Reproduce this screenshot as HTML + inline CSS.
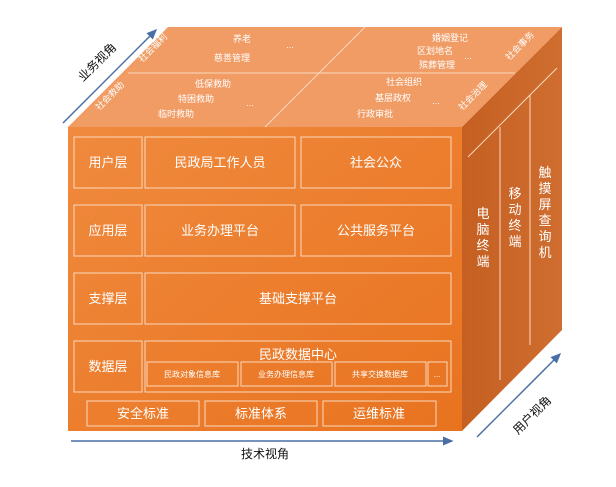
<!DOCTYPE html>
<html><head><meta charset="utf-8"><style>
body{margin:0;background:#fff;}
svg text{font-family:"Liberation Sans","Noto Sans CJK SC",sans-serif;fill:#fff;}
</style></head><body>
<svg width="616" height="482" viewBox="0 0 616 482" xmlns="http://www.w3.org/2000/svg">
<defs>
<linearGradient id="fg" x1="0" y1="0" x2="1" y2="1"><stop offset="0" stop-color="#f08a3e"/><stop offset="1" stop-color="#e8731f"/></linearGradient>
<linearGradient id="rg" x1="0" y1="0" x2="1" y2="0"><stop offset="0" stop-color="#c55f22"/><stop offset="1" stop-color="#cf6e30"/></linearGradient>
<marker id="ah" markerWidth="8" markerHeight="8" refX="6" refY="3" orient="auto"><path d="M0,0 L7,3 L0,6 Z" fill="#4a6fa5"/></marker>
</defs>
<!-- top face -->
<polygon points="68,127 168,27 562,27 462,127" fill="#f19c65"/>
<!-- right face -->
<polygon points="462,127 562,27 562,330 462,431" fill="url(#rg)"/>
<!-- front -->
<rect x="68" y="127" width="394" height="304" fill="url(#fg)"/>
<g stroke="#fbd8bd" stroke-width="1" fill="none">
<line x1="128" y1="73" x2="515" y2="73"/>
<line x1="365" y1="27" x2="265" y2="127"/>
<line x1="557" y1="68" x2="468" y2="157"/>
<line x1="500" y1="127" x2="500" y2="380"/>
<line x1="530" y1="95" x2="530" y2="345"/>
<rect x="74" y="137" width="68" height="51"/><rect x="145" y="137" width="150" height="51"/><rect x="301" y="137" width="150" height="51"/>
<rect x="74" y="205" width="68" height="51"/><rect x="145" y="205" width="150" height="51"/><rect x="301" y="205" width="150" height="51"/>
<rect x="74" y="273" width="68" height="51"/><rect x="145" y="273" width="306" height="51"/>
<rect x="74" y="341" width="68" height="51"/><rect x="145" y="341" width="306" height="51"/>
<rect x="147" y="362" width="91" height="24"/><rect x="241" y="362" width="91" height="24"/><rect x="335" y="362" width="91" height="24"/><rect x="428" y="362" width="19" height="24"/>
<rect x="87" y="401" width="112" height="25"/><rect x="205" y="401" width="112" height="25"/><rect x="323" y="401" width="113" height="25"/>
</g>
<g font-size="13" text-anchor="middle">
<text x="108" y="167">用户层</text><text x="220" y="167">民政局工作人员</text><text x="376" y="167">社会公众</text>
<text x="108" y="235">应用层</text><text x="220" y="235">业务办理平台</text><text x="376" y="235">公共服务平台</text>
<text x="108" y="303">支撑层</text><text x="298" y="303">基础支撑平台</text>
<text x="108" y="371">数据层</text><text x="298" y="359">民政数据中心</text>
<text x="143" y="418">安全标准</text><text x="261" y="418">标准体系</text><text x="379" y="418">运维标准</text>
</g>
<g font-size="8" text-anchor="middle">
<text x="192" y="377">民政对象信息库</text><text x="286" y="377">业务办理信息库</text><text x="380" y="377">共享交换数据库</text><text x="437" y="377">...</text>
</g>
<g font-size="9" text-anchor="middle">
<text x="242" y="42">养老</text><text x="232" y="61">慈善管理</text><text x="290" y="48">...</text>
<text x="450" y="41">婚姻登记</text><text x="435" y="54">区划地名</text><text x="437" y="68">殡葬管理</text><text x="468" y="59">...</text>
<text x="213" y="87">低保救助</text><text x="196" y="102">特困救助</text><text x="176" y="117">临时救助</text><text x="250" y="106">...</text>
<text x="404" y="85">社会组织</text><text x="393" y="101">基层政权</text><text x="375" y="117">行政审批</text><text x="436" y="104">...</text>
<text x="155" y="50" transform="rotate(-45 155 50)">社会福利</text>
<text x="112" y="98" transform="rotate(-45 112 98)">社会救助</text>
<text x="522" y="48" transform="rotate(-45 522 48)">社会事务</text>
<text x="475" y="98" transform="rotate(-45 475 98)">社会治理</text>
</g>
<g font-size="13" text-anchor="middle">
<text x="483" y="218">电</text><text x="483" y="234">脑</text><text x="483" y="250">终</text><text x="483" y="266">端</text>
<text x="515" y="198">移</text><text x="515" y="214">动</text><text x="515" y="230">终</text><text x="515" y="246">端</text>
<text x="545" y="177">触</text><text x="545" y="193">摸</text><text x="545" y="209">屏</text><text x="545" y="225">查</text><text x="545" y="241">询</text><text x="545" y="257">机</text>
</g>
<g stroke="#4a6fa5" stroke-width="1.5" fill="none">
<line x1="63" y1="123" x2="156" y2="30" marker-end="url(#ah)"/>
<line x1="71" y1="441" x2="452" y2="441" marker-end="url(#ah)"/>
<line x1="477" y1="437" x2="560" y2="354" marker-end="url(#ah)"/>
</g>
<g font-size="12" style="fill:#000" text-anchor="middle">
<text x="100" y="65" transform="rotate(-45 100 65)" style="fill:#111">业务视角</text>
<text x="265" y="458" style="fill:#111">技术视角</text>
<text x="535" y="418" transform="rotate(-45 535 418)" style="fill:#111">用户视角</text>
</g>
</svg>
</body></html>
